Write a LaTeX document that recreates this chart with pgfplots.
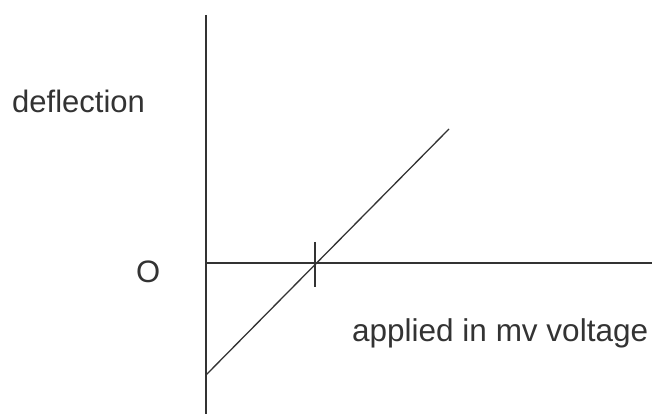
\documentclass[border=0pt]{standalone}
\usepackage{pgfplots}
\pgfplotsset{compat=1.18}
\usepackage{fontspec}
\setmainfont{Liberation Sans}
\begin{document}
\begin{tikzpicture}
\begin{axis}[
  width=656pt, height=414pt, scale only axis,
  xmin=0, xmax=656, ymin=0, ymax=414,
  axis lines=none, clip=false,
]
\tikzset{sketch/.style={black!80, line width=1.3pt, mark=none}}
% vertical axis (deflection)
\addplot[sketch] coordinates {(206,399) (206,0)};
% horizontal axis (applied voltage)
\addplot[sketch] coordinates {(206,151) (652,151)};
% marker where the response crosses zero
\addplot[sketch] coordinates {(315,172) (315,127)};
% deflection against applied voltage
\addplot[sketch] coordinates {(206,39) (449,285)};
\node[anchor=base west, inner sep=0pt, font=\fontsize{31}{37}\selectfont, text=black!80] at (axis cs:12,301) {deflection};
\node[anchor=base west, inner sep=0pt, font=\fontsize{31}{37}\selectfont, text=black!80] at (axis cs:136,131) {O};
\node[anchor=base west, inner sep=0pt, font=\fontsize{31.5}{37}\selectfont, text=black!80] at (axis cs:352,72) {applied in mv voltage};
\end{axis}
\useasboundingbox (0,0) rectangle (656pt,414pt);
\end{tikzpicture}
\end{document}
